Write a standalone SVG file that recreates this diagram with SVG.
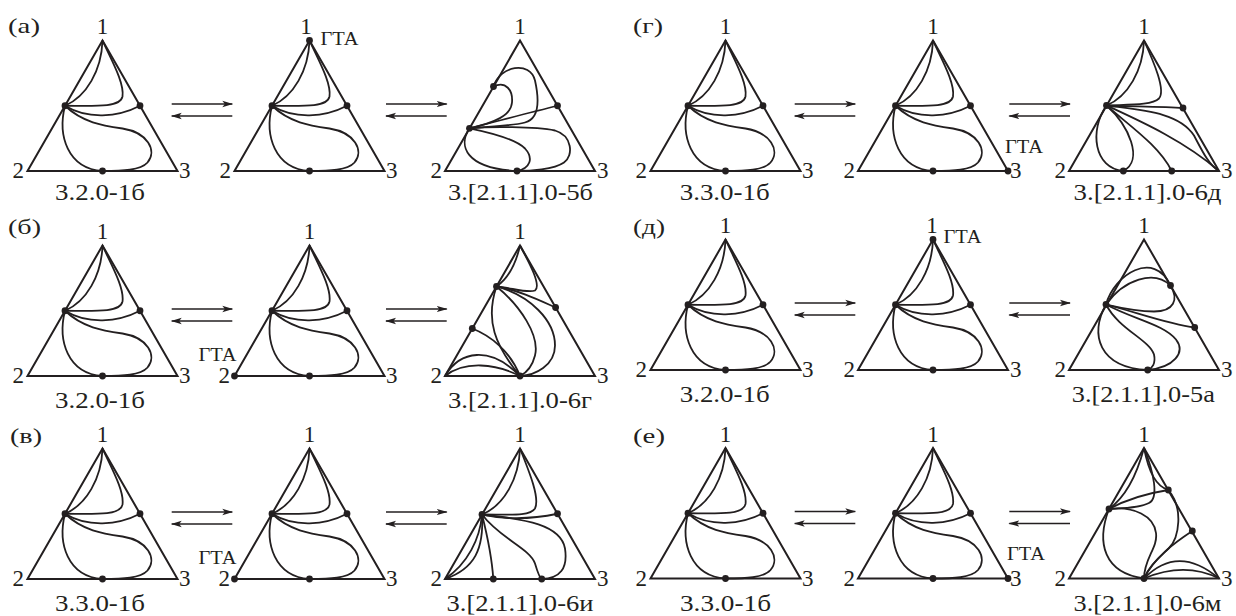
<svg xmlns="http://www.w3.org/2000/svg" xmlns:xlink="http://www.w3.org/1999/xlink" width="1236" height="616" viewBox="0 0 1236 616">
<style>
.t{fill:none;stroke:#231f20;stroke-width:2;stroke-linejoin:miter}
.c{fill:none;stroke:#231f20;stroke-width:1.8}
.d{fill:#231f20}
.a{fill:none;stroke:#231f20;stroke-width:1.3}
text{font-family:"Liberation Serif","Times New Roman",serif;fill:#231f20}
.v{font-size:23px}
.g{font-size:19px}
.p{font-size:21px}
.l{font-size:24px}
</style>
<defs>
<marker id="ah" markerWidth="11" markerHeight="8" refX="10" refY="4" orient="auto" markerUnits="userSpaceOnUse"><path d="M0,0.8 L11,4 L0,7.2 L2.5,4 Z" fill="#231f20"/></marker>
<g id="tri"><path class="t" d="M-75,130.5 L0,0 L75,130.5 Z"/></g>
<g id="base">
<use xlink:href="#tri"/>
<path class="c" d="M0,0 C-1,30 -16,56 -37.5,65.25"/>
<path class="c" d="M0,0 C8,18 22,42 20,56 C18,66 0,66 -37.5,65.25"/>
<path class="c" d="M-37.5,65.25 C-15,79 15,77 37.5,65.25"/>
<path class="c" d="M-37.5,65.25 C-20,82 0,85 20,88 C45,92 55,110 45,122 C38,130 20,130.5 0,130.5"/>
<path class="c" d="M-37.5,65.25 C-45,95 -35,128 0,130.5"/>
<circle class="d" cx="-37.5" cy="65.25" r="3.4"/>
<circle class="d" cx="37.5" cy="65.25" r="3.4"/>
<circle class="d" cx="0" cy="130.5" r="3.4"/>
</g>
</defs>

<g id="connectors">
<path class="a" d="M171.7,104 H232.3" marker-end="url(#ah)"/>
<path class="a" d="M232.3,116 H171.7" marker-end="url(#ah)"/>
<path class="a" d="M386,104 H446.7" marker-end="url(#ah)"/>
<path class="a" d="M446.7,116 H386" marker-end="url(#ah)"/>
<path class="a" d="M794.7,104 H855.3" marker-end="url(#ah)"/>
<path class="a" d="M855.3,116 H794.7" marker-end="url(#ah)"/>
<path class="a" d="M1009.3,104 H1070" marker-end="url(#ah)"/>
<path class="a" d="M1070,116 H1009.3" marker-end="url(#ah)"/>

<path class="a" d="M171.7,309 H232.3" marker-end="url(#ah)"/>
<path class="a" d="M232.3,321 H171.7" marker-end="url(#ah)"/>
<path class="a" d="M386,309 H446.7" marker-end="url(#ah)"/>
<path class="a" d="M446.7,321 H386" marker-end="url(#ah)"/>
<path class="a" d="M794.7,303 H855.3" marker-end="url(#ah)"/>
<path class="a" d="M855.3,315 H794.7" marker-end="url(#ah)"/>
<path class="a" d="M1009.3,303 H1070" marker-end="url(#ah)"/>
<path class="a" d="M1070,315 H1009.3" marker-end="url(#ah)"/>

<path class="a" d="M171.7,512 H232.3" marker-end="url(#ah)"/>
<path class="a" d="M232.3,524 H171.7" marker-end="url(#ah)"/>
<path class="a" d="M386,512 H446.7" marker-end="url(#ah)"/>
<path class="a" d="M446.7,524 H386" marker-end="url(#ah)"/>
<path class="a" d="M794.7,511.5 H855.3" marker-end="url(#ah)"/>
<path class="a" d="M855.3,523.5 H794.7" marker-end="url(#ah)"/>
<path class="a" d="M1009.3,511.5 H1070" marker-end="url(#ah)"/>
<path class="a" d="M1070,523.5 H1009.3" marker-end="url(#ah)"/>
</g>

<g id="panel-labels">
<text class="p" x="8" y="33" textLength="32" lengthAdjust="spacingAndGlyphs">(а)</text>
<text class="p" x="8" y="234" textLength="33" lengthAdjust="spacingAndGlyphs">(б)</text>
<text class="p" x="10" y="443" textLength="32" lengthAdjust="spacingAndGlyphs">(в)</text>
<text class="p" x="633" y="33" textLength="30" lengthAdjust="spacingAndGlyphs">(г)</text>
<text class="p" x="633" y="234" textLength="32" lengthAdjust="spacingAndGlyphs">(д)</text>
<text class="p" x="633" y="443" textLength="32" lengthAdjust="spacingAndGlyphs">(е)</text>
</g>

<!-- ROW 1 LEFT (а) -->
<g id="a1">
<use xlink:href="#base" transform="translate(102.5,40.5)"/>
<text class="v" x="102.5" y="34" text-anchor="middle">1</text>
<text class="v" x="24" y="178" text-anchor="end">2</text>
<text class="v" x="179" y="178">3</text>
<text class="l" x="100" y="200" text-anchor="middle" textLength="90" lengthAdjust="spacingAndGlyphs">3.2.0-1б</text>
</g>
<g id="a2">
<use xlink:href="#base" transform="translate(309.5,40.5)"/>
<circle class="d" cx="309.5" cy="40.5" r="3.4"/>
<text class="v" x="306" y="34" text-anchor="middle">1</text>
<text class="g" x="320.5" y="45" textLength="38" lengthAdjust="spacingAndGlyphs">ГТА</text>
<text class="v" x="231" y="178" text-anchor="end">2</text>
<text class="v" x="386" y="178">3</text>
</g>
<g id="a3" transform="translate(520,40.5)">
<use xlink:href="#tri"/>
<path class="c" d="M-26.5,46 C-20,25 10,20 15,40 C19,58 20,78 5,82 C-10,86 -35,86 -50.5,87.8"/>
<path class="c" d="M-26.5,46 C-14,40 -7,50 -8,62 C-9,75 -25,82 -50.5,87.8"/>
<path class="c" d="M-50.5,87.8 C-20,80 10,72 37.5,65.25"/>
<path class="c" d="M-50.5,87.8 C-30,86 15,86 35,90 C52,95 54,115 44,122 C34,129 10,130.5 -3,130.5"/>
<path class="c" d="M-50.5,87.8 C-30,92 -5,98 5,108 C14,118 10,128 -3,130.5"/>
<path class="c" d="M-50.5,87.8 C-62,105 -55,128 -3,130.5"/>
<circle class="d" cx="-26.5" cy="46" r="3.4"/>
<circle class="d" cx="37.5" cy="65.25" r="3.4"/>
<circle class="d" cx="-50.5" cy="87.8" r="3.4"/>
<circle class="d" cx="-3" cy="130.5" r="3.4"/>
<text class="v" x="0" y="-6.5" text-anchor="middle">1</text>
<text class="v" x="-78" y="137.5" text-anchor="end">2</text>
<text class="v" x="77" y="137.5">3</text>
<text class="l" x="0.5" y="159.5" text-anchor="middle" textLength="145" lengthAdjust="spacingAndGlyphs">3.[2.1.1].0-5б</text>
</g>

<!-- ROW 1 RIGHT (г) -->
<g id="g1">
<use xlink:href="#base" transform="translate(725.5,40.5)"/>
<text class="v" x="725.5" y="34" text-anchor="middle">1</text>
<text class="v" x="647" y="178" text-anchor="end">2</text>
<text class="v" x="802" y="178">3</text>
<text class="l" x="724.7" y="200" text-anchor="middle" textLength="90" lengthAdjust="spacingAndGlyphs">3.3.0-1б</text>
</g>
<g id="g2">
<use xlink:href="#base" transform="translate(933,40.5)"/>
<circle class="d" cx="1008" cy="171" r="3.4"/>
<text class="v" x="933" y="34" text-anchor="middle">1</text>
<text class="v" x="855" y="178" text-anchor="end">2</text>
<text class="v" x="1010" y="178">3</text>
<text class="g" x="1005" y="153" textLength="38" lengthAdjust="spacingAndGlyphs">ГТА</text>
</g>
<g id="g3" transform="translate(1144,40.5)">
<use xlink:href="#tri"/>
<path class="c" d="M0,0 C-1,30 -16,56 -37.5,65"/>
<path class="c" d="M0,0 C10,22 22,50 15,58 C8,65 -15,64 -37.5,65"/>
<path class="c" d="M-37.5,65 C-10,66 20,66 39,67.5"/>
<path class="c" d="M-37.5,65 C0,70 35,72 50,95 C58,110 65,125 75,130.5"/>
<path class="c" d="M-37.5,65 C-5,80 40,100 75,130.5"/>
<path class="c" d="M-37.5,65 C-15,85 15,105 27.7,130.5"/>
<path class="c" d="M-37.5,65 C-15,85 0,120 -20.7,130.5"/>
<path class="c" d="M-37.5,65 C-55,90 -50,128 -20.7,130.5"/>
<circle class="d" cx="-37.5" cy="65" r="3.4"/>
<circle class="d" cx="39" cy="67.5" r="3.4"/>
<circle class="d" cx="-20.7" cy="130.5" r="3.4"/>
<circle class="d" cx="27.7" cy="130.5" r="3.4"/>
<text class="v" x="0" y="-6.5" text-anchor="middle">1</text>
<text class="v" x="-78" y="137.5" text-anchor="end">2</text>
<text class="v" x="77" y="137.5">3</text>
<text class="l" x="3.5" y="159.5" text-anchor="middle" textLength="148" lengthAdjust="spacingAndGlyphs">3.[2.1.1].0-6д</text>
</g>

<!-- ROW 2 LEFT (б) -->
<g id="b1">
<use xlink:href="#base" transform="translate(102.5,245.5)"/>
<text class="v" x="102.5" y="239" text-anchor="middle">1</text>
<text class="v" x="24" y="383" text-anchor="end">2</text>
<text class="v" x="179" y="383">3</text>
<text class="l" x="100" y="408" text-anchor="middle" textLength="90" lengthAdjust="spacingAndGlyphs">3.2.0-1б</text>
</g>
<g id="b2">
<use xlink:href="#base" transform="translate(309.5,245.5)"/>
<circle class="d" cx="234.5" cy="376" r="3.4"/>
<text class="v" x="309.5" y="239" text-anchor="middle">1</text>
<text class="v" x="230" y="383" text-anchor="end">2</text>
<text class="v" x="386" y="383">3</text>
<text class="g" x="198.5" y="361" textLength="38" lengthAdjust="spacingAndGlyphs">ГТА</text>
</g>
<g id="b3" transform="translate(520,245.5)">
<use xlink:href="#tri"/>
<path class="c" d="M0,0 C-4,18 -12,33 -23.5,41"/>
<path class="c" d="M0,0 C8,15 22,40 15,45 C8,48 -10,42 -23.5,41"/>
<path class="c" d="M-23.5,41 C0,45 20,55 35.6,62"/>
<path class="c" d="M-23.5,41 C10,50 35,75 35,100 C35,120 15,130 0,130.5"/>
<path class="c" d="M-23.5,41 C0,60 20,90 15,110 C12,122 5,128 0,130.5"/>
<path class="c" d="M-23.5,41 C-35,75 -25,100 0,130.5"/>
<path class="c" d="M-47.7,83 C-30,90 -10,105 0,130.5"/>
<path class="c" d="M-75,130.5 C-60,105 -30,100 0,130.5"/>
<path class="c" d="M-75,130.5 C-55,115 -25,118 0,130.5"/>
<circle class="d" cx="-23.5" cy="41" r="3.4"/>
<circle class="d" cx="35.6" cy="62" r="3.4"/>
<circle class="d" cx="-47.7" cy="83" r="3.4"/>
<circle class="d" cx="0" cy="130.5" r="3.4"/>
<text class="v" x="0" y="-6.5" text-anchor="middle">1</text>
<text class="v" x="-78" y="137.5" text-anchor="end">2</text>
<text class="v" x="77" y="137.5">3</text>
<text class="l" x="0" y="162.5" text-anchor="middle" textLength="144" lengthAdjust="spacingAndGlyphs">3.[2.1.1].0-6г</text>
</g>

<!-- ROW 2 RIGHT (д) -->
<g id="d1">
<use xlink:href="#base" transform="translate(725.5,239.5)"/>
<text class="v" x="725.5" y="233" text-anchor="middle">1</text>
<text class="v" x="647" y="377" text-anchor="end">2</text>
<text class="v" x="802" y="377">3</text>
<text class="l" x="724.7" y="402" text-anchor="middle" textLength="90" lengthAdjust="spacingAndGlyphs">3.2.0-1б</text>
</g>
<g id="d2">
<use xlink:href="#base" transform="translate(933,239.5)"/>
<circle class="d" cx="933" cy="239.5" r="3.4"/>
<text class="v" x="932" y="233" text-anchor="middle">1</text>
<text class="g" x="943.5" y="243" textLength="38" lengthAdjust="spacingAndGlyphs">ГТА</text>
<text class="v" x="855" y="377" text-anchor="end">2</text>
<text class="v" x="1010" y="377">3</text>
</g>
<g id="d3" transform="translate(1144,239.5)">
<use xlink:href="#tri"/>
<path class="c" d="M-38,65 C-30,35 10,10 26.5,46"/>
<path class="c" d="M-38,65 C-20,40 10,30 26.5,46"/>
<path class="c" d="M26.5,46 C35,60 30,72 10,72 C-10,72 -25,68 -38,65"/>
<path class="c" d="M-38,65 C-10,72 25,85 50.7,88"/>
<path class="c" d="M-38,65 C-10,80 20,85 32,100 C42,113 30,128 3.7,130.5"/>
<path class="c" d="M-38,65 C-25,90 5,100 10,115 C12,124 8,129 3.7,130.5"/>
<path class="c" d="M-38,65 C-55,95 -45,128 3.7,130.5"/>
<circle class="d" cx="-38" cy="65" r="3.4"/>
<circle class="d" cx="26.5" cy="46" r="3.4"/>
<circle class="d" cx="50.7" cy="88" r="3.4"/>
<circle class="d" cx="3.7" cy="130.5" r="3.4"/>
<text class="v" x="0" y="-6.5" text-anchor="middle">1</text>
<text class="v" x="-78" y="137.5" text-anchor="end">2</text>
<text class="v" x="77" y="137.5">3</text>
<text class="l" x="-0.7" y="162.5" text-anchor="middle" textLength="143" lengthAdjust="spacingAndGlyphs">3.[2.1.1].0-5а</text>
</g>

<!-- ROW 3 LEFT (в) -->
<g id="v1">
<use xlink:href="#base" transform="translate(102.5,448.5)"/>
<text class="v" x="102.5" y="442" text-anchor="middle">1</text>
<text class="v" x="24" y="586" text-anchor="end">2</text>
<text class="v" x="179" y="586">3</text>
<text class="l" x="100" y="611" text-anchor="middle" textLength="90" lengthAdjust="spacingAndGlyphs">3.3.0-1б</text>
</g>
<g id="v2">
<use xlink:href="#base" transform="translate(309.5,448.5)"/>
<circle class="d" cx="234.5" cy="579" r="3.4"/>
<text class="v" x="309.5" y="442" text-anchor="middle">1</text>
<text class="v" x="230" y="586" text-anchor="end">2</text>
<text class="v" x="386" y="586">3</text>
<text class="g" x="198.5" y="564" textLength="38" lengthAdjust="spacingAndGlyphs">ГТА</text>
</g>
<g id="v3" transform="translate(520,448.5)">
<use xlink:href="#tri"/>
<path class="c" d="M0,0 C-1,30 -16,57 -38,66"/>
<path class="c" d="M0,0 C10,25 20,50 15,60 C10,68 -10,66 -38,66"/>
<path class="c" d="M-38,66 C-10,72 15,70 37.5,65.25"/>
<path class="c" d="M-38,66 C-10,70 40,72 45,100 C48,120 40,130 21.7,130.5"/>
<path class="c" d="M-38,66 C-20,90 10,100 15,115 C18,125 20,130 21.7,130.5"/>
<path class="c" d="M-38,66 C-32,90 -28,110 -26.7,130.5"/>
<path class="c" d="M-38,66 C-36,100 -45,120 -75,130.5"/>
<path class="c" d="M-38,66 C-40,90 -52,115 -75,130.5"/>
<circle class="d" cx="-38" cy="66" r="3.4"/>
<circle class="d" cx="37.5" cy="65.25" r="3.4"/>
<circle class="d" cx="-26.7" cy="130.5" r="3.4"/>
<circle class="d" cx="21.7" cy="130.5" r="3.4"/>
<text class="v" x="0" y="-6.5" text-anchor="middle">1</text>
<text class="v" x="-78" y="137.5" text-anchor="end">2</text>
<text class="v" x="77" y="137.5">3</text>
<text class="l" x="0" y="162.5" text-anchor="middle" textLength="147" lengthAdjust="spacingAndGlyphs">3.[2.1.1].0-6и</text>
</g>

<!-- ROW 3 RIGHT (е) -->
<g id="e1">
<use xlink:href="#base" transform="translate(725.5,448)"/>
<text class="v" x="725.5" y="441.5" text-anchor="middle">1</text>
<text class="v" x="647" y="585.5" text-anchor="end">2</text>
<text class="v" x="802" y="585.5">3</text>
<text class="l" x="725.5" y="611" text-anchor="middle" textLength="91" lengthAdjust="spacingAndGlyphs">3.3.0-1б</text>
</g>
<g id="e2">
<use xlink:href="#base" transform="translate(933,448)"/>
<circle class="d" cx="1008" cy="578.5" r="3.4"/>
<text class="v" x="933" y="441.5" text-anchor="middle">1</text>
<text class="v" x="855" y="585.5" text-anchor="end">2</text>
<text class="v" x="1010" y="585.5">3</text>
<text class="g" x="1007" y="560" textLength="38" lengthAdjust="spacingAndGlyphs">ГТА</text>
</g>
<g id="e3" transform="translate(1144,448)">
<use xlink:href="#tri"/>
<path class="c" d="M0,0 C-8,30 -20,50 -35,61"/>
<path class="c" d="M0,0 C10,25 15,50 5,55 C-5,60 -20,60 -35,61"/>
<path class="c" d="M0,0 C5,25 12,38 24.3,42"/>
<path class="c" d="M-35,61 C-15,50 5,45 24.3,42"/>
<path class="c" d="M-35,61 C-10,58 10,68 12,85 C14,100 0,110 0,130.5"/>
<path class="c" d="M-35,61 C-48,95 -40,125 0,130.5"/>
<path class="c" d="M24.3,42 C40,60 35,90 25,100 C15,110 5,118 0,130.5"/>
<path class="c" d="M0,130.5 C10,110 30,95 48.3,83"/>
<path class="c" d="M0,130.5 C20,110 45,105 75,130.5"/>
<path class="c" d="M0,130.5 C25,120 50,118 75,130.5"/>
<circle class="d" cx="-35" cy="61" r="3.4"/>
<circle class="d" cx="24.3" cy="42" r="3.4"/>
<circle class="d" cx="48.3" cy="83" r="3.4"/>
<circle class="d" cx="0" cy="130.5" r="3.4"/>
<text class="v" x="0" y="-6.5" text-anchor="middle">1</text>
<text class="v" x="-78" y="137.5" text-anchor="end">2</text>
<text class="v" x="77" y="137.5">3</text>
<text class="l" x="3.5" y="163" text-anchor="middle" textLength="148" lengthAdjust="spacingAndGlyphs">3.[2.1.1].0-6м</text>
</g>
</svg>
